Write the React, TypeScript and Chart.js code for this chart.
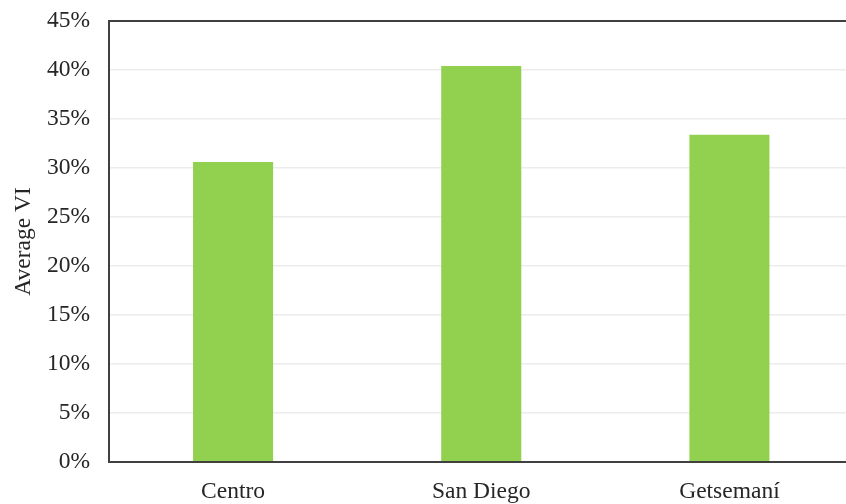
import React, { useEffect, useRef } from "react";
import { Chart, registerables } from "chart.js";

Chart.register(...registerables);

const categories = ["Centro", "San Diego", "Getsemaní"];
const averageVI = [30.6, 40.4, 33.4];
const yMax = 45;
const yStep = 5;
const yTitle = "Average VI";

const FONT = "'Liberation Serif', 'Times New Roman', serif";

const frame = {
  id: "frame",
  afterDatasetsDraw(chart: any) {
    const { ctx, chartArea } = chart;
    ctx.save();
    ctx.strokeStyle = "#404040";
    ctx.lineWidth = 2;
    ctx.strokeRect(chartArea.left, chartArea.top, chartArea.right - chartArea.left, chartArea.bottom - chartArea.top);
    ctx.restore();
  },
};

export default function App() {
  const ref = useRef<HTMLCanvasElement | null>(null);
  useEffect(() => {
    if (!ref.current) return;
    const chart = new Chart(ref.current, {
      type: "bar",
      data: {
        labels: categories,
        datasets: [
          {
            label: yTitle,
            data: averageVI,
            backgroundColor: "#92D050",
            borderWidth: 0,
            barPercentage: 0.3226,
            categoryPercentage: 1,
          },
        ],
      },
      options: {
        responsive: false,
        animation: false,
        devicePixelRatio: 1,
        layout: { padding: { top: 21, right: 6.5, left: 0, bottom: 0 } },
        plugins: { legend: { display: false }, tooltip: { enabled: false } },
        scales: {
          x: {
            grid: { display: false, drawTicks: false },
            border: { display: false },
            ticks: {
              color: "#262626",
              padding: 16,
              font: { family: FONT, size: 23.5 },
              maxRotation: 0,
            },
            afterFit: (s: any) => {
              s.height = 42;
              s.paddingLeft = 0;
              s.paddingRight = 0;
            },
          },
          y: {
            min: 0,
            max: yMax,
            grid: { color: "#ececec", lineWidth: 1.5, drawTicks: false },
            border: { display: false },
            ticks: {
              stepSize: yStep,
              color: "#262626",
              padding: 19,
              font: { family: FONT, size: 23.5 },
              callback: (v: any) => v + "%",
            },
            title: {
              display: true,
              text: yTitle,
              color: "#262626",
              font: { family: FONT, size: 23.5 },
              padding: { top: 10, bottom: 0 },
            },
            afterFit: (s: any) => {
              s.width = 109;
              s.paddingTop = 0;
              s.paddingBottom = 0;
            },
          },
        },
      },
      plugins: [frame],
    });
    return () => chart.destroy();
  }, []);
  return (
    <div
      style={{
        position: "fixed",
        left: 0,
        top: 0,
        width: 846,
        height: 504,
        overflow: "hidden",
        background: "#fff",
      }}
    >
      <canvas ref={ref} width={860} height={504} style={{ width: 860, height: 504, display: "block" }} />
    </div>
  );
}
